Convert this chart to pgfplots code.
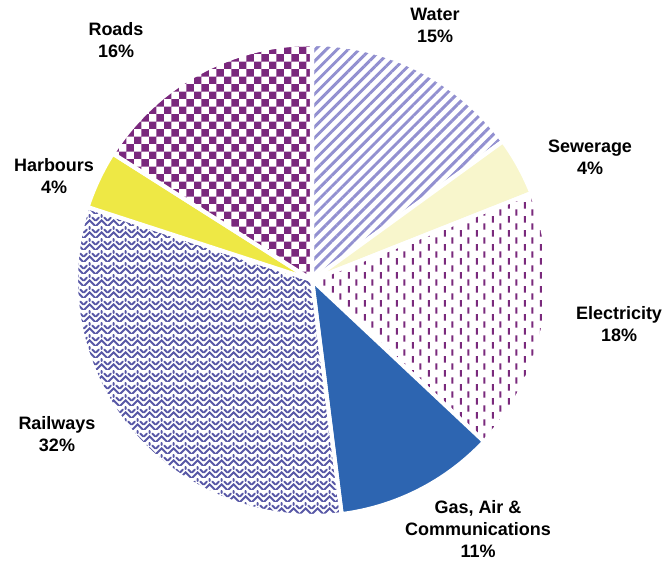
\documentclass[border=0pt]{standalone}
\usepackage{fontspec}
\setmainfont{Liberation Sans}
\usepackage{pgfplots}
\pgfplotsset{compat=1.18}
\usetikzlibrary{patterns,patterns.meta}

\definecolor{waterc}{HTML}{9290D0}
\definecolor{sewc}{HTML}{F8F6CC}
\definecolor{elecc}{HTML}{7A2A7C}
\definecolor{gasc}{HTML}{2D65B1}
\definecolor{railc}{HTML}{5858A6}
\definecolor{harbc}{HTML}{EEE845}
\definecolor{roadc}{HTML}{7A287D}

% vertical staggered dashes
\pgfdeclarepattern{
  name=vdashes, type=uncolored,
  bottom left={\pgfpoint{0pt}{0pt}},
  top right={\pgfpoint{11.3pt}{10.4pt}},
  tile size={\pgfpoint{11.3pt}{10.4pt}},
  code={
    \pgfsetlinewidth{1.5pt}
    \pgfpathmoveto{\pgfpoint{2.8pt}{0.3pt}}
    \pgfpathlineto{\pgfpoint{2.8pt}{5.1pt}}
    \pgfpathmoveto{\pgfpoint{8.45pt}{5.5pt}}
    \pgfpathlineto{\pgfpoint{8.45pt}{10.3pt}}
    \pgfusepath{stroke}
  }
}
% checkerboard
\pgfdeclarepattern{
  name=checks, type=uncolored,
  bottom left={\pgfpoint{0pt}{0pt}},
  top right={\pgfpoint{10.8pt}{10.8pt}},
  tile size={\pgfpoint{10.8pt}{10.8pt}},
  code={
    \pgfpathrectangle{\pgfpoint{0pt}{0pt}}{\pgfpoint{5.4pt}{5.4pt}}
    \pgfpathrectangle{\pgfpoint{5.4pt}{5.4pt}}{\pgfpoint{5.4pt}{5.4pt}}
    \pgfusepath{fill}
  }
}
% weave-like herringbone
\pgfdeclarepattern{
  name=weave, type=uncolored,
  bottom left={\pgfpoint{0pt}{0pt}},
  top right={\pgfpoint{8.7pt}{8.7pt}},
  tile size={\pgfpoint{8.7pt}{8.7pt}},
  code={
    \pgfsetlinewidth{1.5pt}
    \pgfsetroundcap
    \pgfpathmoveto{\pgfpoint{0pt}{0pt}}
    \pgfpathlineto{\pgfpoint{4.35pt}{4.35pt}}
    \pgfpathlineto{\pgfpoint{8.7pt}{0pt}}
    \pgfpathmoveto{\pgfpoint{0pt}{4.35pt}}
    \pgfpathlineto{\pgfpoint{2.2pt}{6.5pt}}
    \pgfpathmoveto{\pgfpoint{6.5pt}{6.5pt}}
    \pgfpathlineto{\pgfpoint{8.7pt}{4.35pt}}
    \pgfpathmoveto{\pgfpoint{4.35pt}{8.7pt}}
    \pgfpathlineto{\pgfpoint{4.35pt}{7.0pt}}
    \pgfusepath{stroke}
  }
}

% #1 cumulative percent before slice, #2 percent, #3 style
\newcommand{\pieslice}[3]{%
  \addplot[#3, draw=white, line width=3pt, line join=round,
    domain={90-3.6*(#1+#2)}:{90-3.6*(#1)}, samples=120, variable=\t]
    ({312+236*cos(\t)},{282+236*sin(\t)}) -- (axis cs:312,282) -- cycle;
}

\begin{document}
\begin{tikzpicture}
\useasboundingbox (0,0) rectangle (6.64in,5.62in);
\begin{axis}[at={(0,0)}, anchor=south west, scale only axis,
  width=6.64in, height=5.62in,
  xmin=0, xmax=664, ymin=0, ymax=562,
  hide axis, clip=false]
  \pieslice{0}{15}{pattern={Lines[angle=45,distance=5.6pt,line width=2.1pt]}, pattern color=waterc}
  \pieslice{15}{4}{fill=sewc}
  \pieslice{19}{18}{pattern=vdashes, pattern color=elecc}
  \pieslice{37}{11}{fill=gasc}
  \pieslice{48}{32}{pattern=weave, pattern color=railc}
  \pieslice{80}{4}{fill=harbc}
  \pieslice{84}{16}{pattern=checks, pattern color=roadc}

  \tikzset{lab/.style={align=center, font=\bfseries\fontsize{13}{15.9}\selectfont, text=black}}
  \node[lab] at (axis cs:435,537) {Water\\15\%};
  \node[lab] at (axis cs:590,405) {Sewerage\\4\%};
  \node[lab] at (axis cs:619,238) {Electricity\\18\%};
  \node[lab] at (axis cs:478,33) {Gas, Air \&\\Communications\\11\%};
  \node[lab] at (axis cs:57,128) {Railways\\32\%};
  \node[lab] at (axis cs:54,386) {Harbours\\4\%};
  \node[lab] at (axis cs:116,522) {Roads\\16\%};
\end{axis}
\end{tikzpicture}
\end{document}
